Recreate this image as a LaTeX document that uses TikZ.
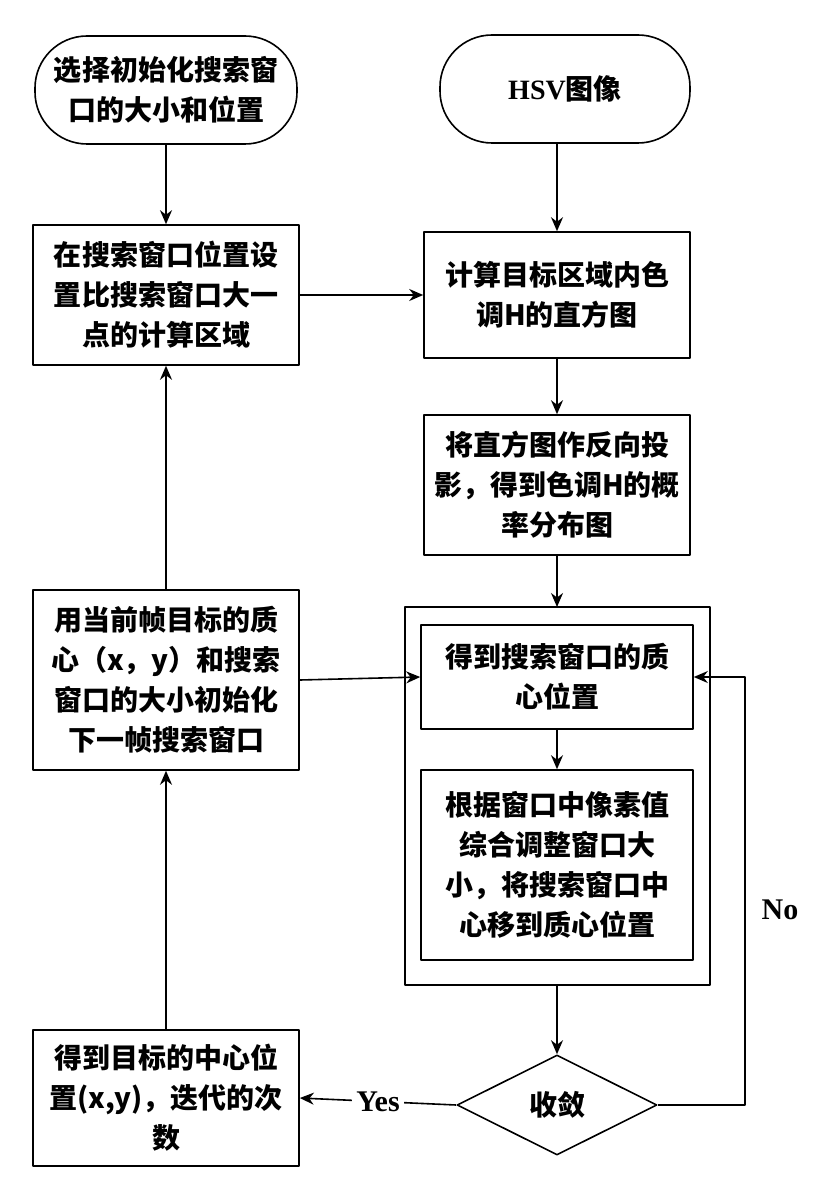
\documentclass[tikz,border=0pt]{standalone}
\usepackage{fontspec}
\setmainfont{Liberation Serif}
\newfontfamily\cjk{Noto Sans CJK SC}
\usetikzlibrary{shapes.geometric,arrows.meta,positioning}
\begin{document}
\begin{tikzpicture}[x=0.5pt,y=-0.5pt,>={Stealth[length=7pt,width=6pt]},line join=round,
  every node/.style={font=\cjk\fontsize{14}{20}\selectfont\bfseries,align=center,inner sep=0pt},
  box/.style={draw,thick,minimum width=133pt},
  term/.style={draw,thick,rounded corners=26pt,minimum height=54pt},
  cond/.style={draw,thick,diamond,aspect=2,minimum width=100pt,minimum height=50pt}]
  \useasboundingbox (0,0) rectangle (814,1198);

  %--- Left column ---------------------------------------------------------
  \node[term,minimum width=131pt] (startL) at (166,90) {选择初始化搜索窗\\口的大小和位置};
  \node[box,minimum height=70pt] (calcArea) at (166,295) {在搜索窗口位置设\\置比搜索窗口大一\\点的计算区域};
  \node[box,minimum height=90pt] (initNext) at (166,680) {用当前帧目标的质\\心（x，y）和搜索\\窗口的大小初始化\\下一帧搜索窗口};
  \node[box,minimum height=68pt] (result) at (166,1098) {得到目标的中心位\\置(x,y)，迭代的次\\数};

  %--- Right column --------------------------------------------------------
  \node[term,minimum width=125pt] (hsv) at (565,89) {{\rmfamily\bfseries HSV}图像};
  \node[box,minimum height=63pt] (hist) at (557,295) {计算目标区域内色\\调H的直方图};
  \node[box,minimum height=70pt] (proj) at (557,485) {将直方图作反向投\\影，得到色调H的概\\率分布图};
  \node[box,minimum width=136pt,minimum height=52pt] (centroid) at (557,677) {得到搜索窗口的质\\心位置};
  \node[box,minimum width=136pt,minimum height=95pt] (adjust) at (557,865) {根据窗口中像素值\\综合调整窗口大\\小，将搜索窗口中\\心移到质心位置};
  \draw[thick] (405,607) rectangle (710,985);
  \coordinate (outTop) at (557,607);
  \coordinate (outBot) at (557,985);
  \node[cond] (conv) at (557,1105) {收敛};

  %--- Connectors ----------------------------------------------------------
  \draw[thick,->] (startL) -- (calcArea);
  \draw[thick,->] (hsv.south -| hist) -- (hist);
  \draw[thick,->] (calcArea) -- (hist);
  \draw[thick,->] (hist) -- (proj);
  \draw[thick,->] (proj) -- (outTop);
  \draw[thick,->] (centroid) -- (adjust);
  \draw[thick,->] (outBot) -- (conv);
  \draw[thick,->] (conv.east) -| (745,677) -- (centroid.east);
  \node[font=\rmfamily\fontsize{15}{18}\selectfont\bfseries] at (780,910) {No};
  \draw[thick,->] (conv.west) -- node[fill=white,inner sep=2pt,font=\rmfamily\fontsize{15}{18}\selectfont\bfseries] {Yes} (result.east);
  \draw[thick,->] (result) -- (initNext);
  \draw[thick,->] (initNext) -- (calcArea);
  \draw[thick,->] (initNext.east) -- (centroid.west);
\end{tikzpicture}
\end{document}
